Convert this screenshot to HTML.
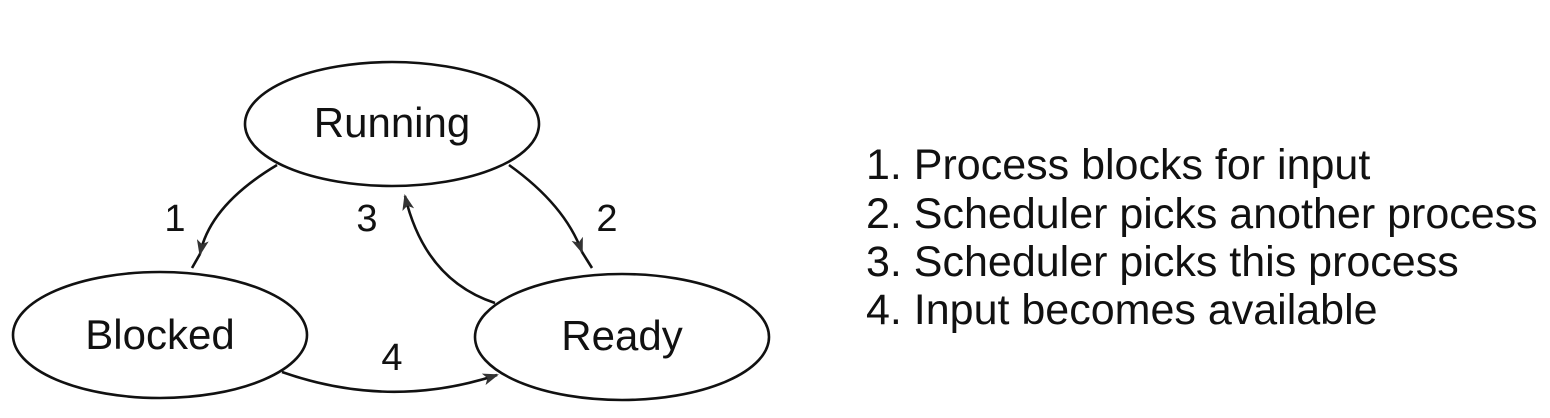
<!DOCTYPE html>
<html><head><meta charset="utf-8"><style>
body{margin:0;background:#fff;}
svg{display:block;}
text{font-family:"Liberation Sans",sans-serif;fill:#111;}
</style></head><body>
<svg width="1550" height="418" viewBox="0 0 1550 418">
<defs>
<marker id="a" markerWidth="16" markerHeight="12" refX="14" refY="6" orient="auto" markerUnits="userSpaceOnUse">
<path d="M0,0 L16,6 L0,12 L4,6 Z" fill="#333"/>
</marker>
</defs>
<g fill="none" stroke="#111" stroke-width="2.6">
<ellipse cx="392" cy="124" rx="147" ry="62"/>
<ellipse cx="160" cy="335" rx="147" ry="63"/>
<ellipse cx="622" cy="337" rx="147" ry="63"/>
<path d="M277,165 Q210,205 200,254" marker-end="url(#a)"/>
<path d="M200,254 L192,268"/>
<path d="M509,165 Q565,205 582,252" marker-end="url(#a)"/>
<path d="M582,252 L592,268"/>
<path d="M495,303 Q425,280 405,196" marker-end="url(#a)"/>
<path d="M282,372 Q390,410 497,375" marker-end="url(#a)"/>
</g>
<g font-size="42">
<text x="392" y="137" text-anchor="middle">Running</text>
<text x="160" y="349" text-anchor="middle">Blocked</text>
<text x="622" y="350" text-anchor="middle">Ready</text>
</g>
<g font-size="38">
<text x="175" y="231" text-anchor="middle">1</text>
<text x="367" y="231" text-anchor="middle">3</text>
<text x="607" y="231" text-anchor="middle">2</text>
<text x="392" y="370" text-anchor="middle">4</text>
</g>
<g font-size="43">
<text x="866" y="179">1. Process blocks for input</text>
<text x="866" y="228">2. Scheduler picks another process</text>
<text x="866" y="276">3. Scheduler picks this process</text>
<text x="866" y="324">4. Input becomes available</text>
</g>
</svg>
</body></html>
